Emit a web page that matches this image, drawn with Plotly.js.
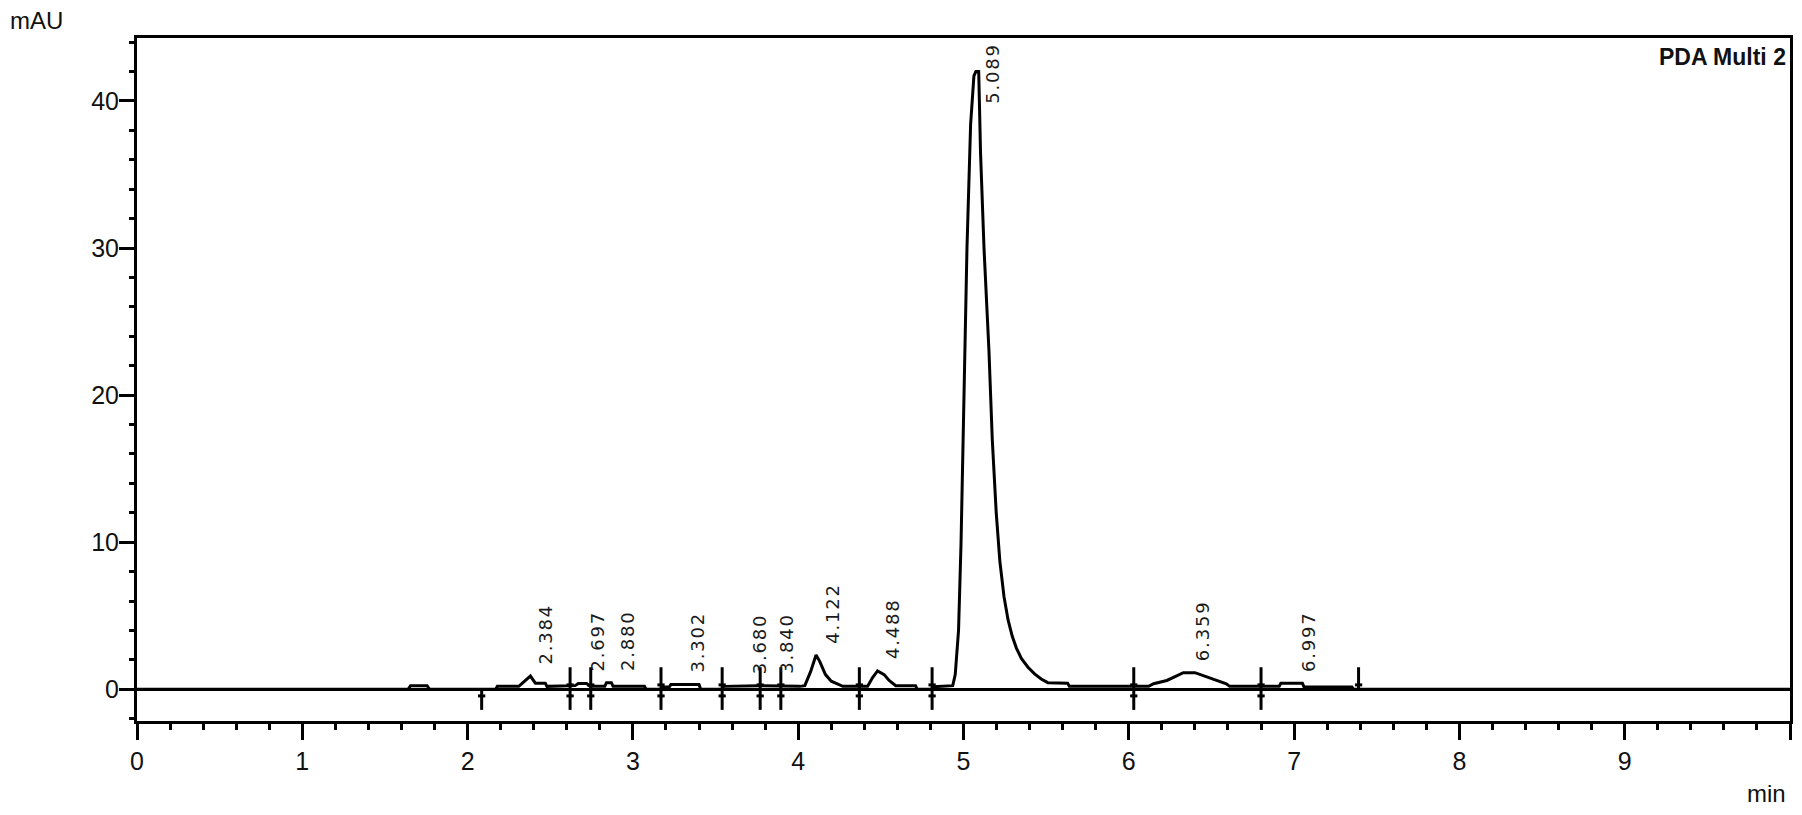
<!DOCTYPE html>
<html>
<head>
<meta charset="utf-8">
<title>PDA Multi 2</title>
<script src="https://cdn.plot.ly/plotly-3.0.1.min.js"></script>
<style>
  html, body { margin: 0; padding: 0; background: #fff; }
  #chart { width: 1802px; height: 815px; }
</style>
</head>
<body>
<div id="chart"></div>
<script>
// chromatogram trace (min, mAU)
const timeMin = [
  0.00, 1.64, 1.655, 1.755, 1.77, 2.17, 2.18, 2.31, 2.34, 2.38, 2.41, 2.47, 2.48,
  2.62, 2.65, 2.67, 2.72, 2.74, 2.83, 2.84, 2.87, 2.88, 3.07, 3.08, 3.17, 3.18,
  3.22, 3.23, 3.40, 3.41, 3.54, 3.55, 3.66, 3.76, 3.90, 4.01, 4.04, 4.075, 4.108,
  4.13, 4.165, 4.20, 4.27, 4.36, 4.42, 4.45, 4.48, 4.52, 4.55, 4.59, 4.71, 4.72,
  4.81, 4.82, 4.92, 4.935, 4.95, 4.97, 4.985, 5.003, 5.021, 5.043, 5.063, 5.075,
  5.092, 5.103, 5.124, 5.154, 5.174, 5.198, 5.22, 5.245, 5.27, 5.295, 5.32, 5.35,
  5.39, 5.43, 5.47, 5.51, 5.63, 5.64, 6.12, 6.15, 6.23, 6.28, 6.33, 6.40, 6.47,
  6.53, 6.59, 6.61, 6.91, 6.92, 7.05, 7.06, 7.35, 7.36, 10.0
];
const signalMau = [
  0.00, 0.00, 0.25, 0.25, 0.00, 0.00, 0.20, 0.20, 0.50, 0.90, 0.42, 0.42, 0.20,
  0.20, 0.25, 0.40, 0.40, 0.20, 0.20, 0.45, 0.45, 0.20, 0.20, 0.00, 0.00, 0.15,
  0.15, 0.33, 0.33, 0.00, 0.00, 0.20, 0.22, 0.25, 0.22, 0.20, 0.25, 1.20, 2.33,
  1.90, 1.00, 0.55, 0.20, 0.20, 0.20, 0.80, 1.25, 1.00, 0.60, 0.25, 0.25, 0.00,
  0.00, 0.18, 0.20, 0.25, 1.00, 4.00, 9.90, 19.4, 30.0, 38.4, 41.7, 42.0,
  42.0, 36.5, 30.0, 23.0, 17.0, 12.0, 8.70, 6.30, 4.70, 3.60, 2.80, 2.10,
  1.50, 1.05, 0.70, 0.45, 0.42, 0.20, 0.20, 0.38, 0.60, 0.86, 1.13, 1.13, 0.86,
  0.60, 0.38, 0.20, 0.20, 0.42, 0.42, 0.16, 0.16, 0.00, 0.00
];

// detected peaks: retention time label and apex height
const peakLabels = ["2.384", "2.697", "2.880", "3.302", "3.680", "3.840", "4.122", "4.488", "5.089", "6.359", "6.997"];
const peakTimes = [2.384, 2.697, 2.880, 3.302, 3.680, 3.840, 4.122, 4.488, 5.089, 6.359, 6.997];
const peakHeights = [0.9, 0.4, 0.45, 0.33, 0.25, 0.25, 2.33, 1.25, 42.0, 1.13, 0.42];

// integration marks: peak starts (below baseline) and peak ends (above)
const startMarks = [2.085, 2.62, 2.745, 3.17, 3.54, 3.77, 3.895, 4.37, 4.81, 6.03, 6.80];
const endMarks = [2.62, 2.745, 3.17, 3.54, 3.77, 3.895, 4.37, 4.81, 6.03, 6.80, 7.39];

// axis ticks
const xTickVals = [0, 1, 2, 3, 4, 5, 6, 7, 8, 9, 10];
const xTickLabels = ["0", "1", "2", "3", "4", "5", "6", "7", "8", "9", ""];
const yTickVals = [0, 10, 20, 30, 40];
const yTickLabels = ["0", "10", "20", "30", "40"];

const Y_RANGE = [-2.155, 44.28];
const INK = "#000";
const TICK_FONT = { family: "Liberation Sans, Arial, sans-serif", size: 25, color: "#111" };

// ----- integration mark segments -----
const markX = [], markY = [];
const bar = 0.022;
startMarks.forEach(m => {
  markX.push(m, m, null, m - bar, m + bar, null);
  markY.push(0, -1.4, null, -0.45, -0.45, null);
});
endMarks.forEach(m => {
  markX.push(m, m, null, m - bar, m + bar, null);
  markY.push(0, 1.5, null, 0.3, 0.3, null);
});

const traces = [
  {
    type: "scatter", mode: "lines",
    x: markX, y: markY,
    line: { color: INK, width: 3 },
    hoverinfo: "skip", showlegend: false
  },
  {
    type: "scatter", mode: "lines",
    x: timeMin, y: signalMau,
    line: { color: INK, width: 3 },
    hovertemplate: "%{x:.3f} min<br>%{y:.2f} mAU<extra></extra>",
    showlegend: false
  }
];

// rotated retention-time labels just right of each apex
const labelTop = Y_RANGE[1] - 4.6;
const peakAnnotations = peakLabels.map((txt, i) => ({
  x: peakTimes[i] + 0.087,
  y: Math.min(peakHeights[i] + 0.65, labelTop),
  xref: "x", yref: "y",
  text: `<span style="letter-spacing:1.8px">${txt}</span>`,
  textangle: -90,
  xanchor: "center", yanchor: "bottom",
  showarrow: false,
  font: { family: "DejaVu Sans, sans-serif", size: 18, color: "#1a1a1a" }
}));

const layout = {
  width: 1802,
  height: 815,
  margin: { l: 137, r: 12, t: 38, b: 94 },
  paper_bgcolor: "#fff",
  plot_bgcolor: "#fff",
  showlegend: false,
  xaxis: {
    range: [0, 10],
    tickmode: "array", tickvals: xTickVals, ticktext: xTickLabels,
    ticks: "outside", ticklen: 16, tickwidth: 3, tickcolor: INK,
    minor: { tickmode: "linear", tick0: 0, dtick: 0.2, ticks: "outside", ticklen: 6, tickwidth: 3, tickcolor: INK, showgrid: false },
    showline: true, linewidth: 3, linecolor: INK, mirror: true,
    showgrid: false, zeroline: false,
    tickfont: TICK_FONT
  },
  yaxis: {
    range: Y_RANGE,
    tickmode: "array", tickvals: yTickVals, ticktext: yTickLabels,
    ticks: "outside", ticklen: 15, tickwidth: 3, tickcolor: INK,
    ticklabelstandoff: -5,
    minor: { tickmode: "linear", tick0: 0, dtick: 2, ticks: "outside", ticklen: 5, tickwidth: 3, tickcolor: INK, showgrid: false },
    showline: true, linewidth: 3, linecolor: INK, mirror: true,
    showgrid: false,
    zeroline: true, zerolinecolor: INK, zerolinewidth: 3,
    tickfont: TICK_FONT
  },
  annotations: [
    ...peakAnnotations,
    {
      text: "mAU", xref: "paper", yref: "paper",
      x: -0.0611, y: 1.0256, xanchor: "center", yanchor: "middle",
      showarrow: false,
      font: { family: "Liberation Sans, Arial, sans-serif", size: 24, color: "#111" }
    },
    {
      text: "min", xref: "paper", yref: "paper",
      x: 0.9855, y: -0.106, xanchor: "center", yanchor: "middle",
      showarrow: false,
      font: { family: "Liberation Sans, Arial, sans-serif", size: 24, color: "#111" }
    },
    {
      text: "<b>PDA Multi 2</b>", xref: "paper", yref: "paper",
      x: 1, y: 1, xanchor: "right", yanchor: "top", yshift: -4, xshift: -2,
      showarrow: false,
      font: { family: "Liberation Sans, Arial, sans-serif", size: 23, color: "#111" }
    }
  ]
};

Plotly.newPlot("chart", traces, layout, { displayModeBar: false, responsive: false, staticPlot: true });
</script>
</body>
</html>
